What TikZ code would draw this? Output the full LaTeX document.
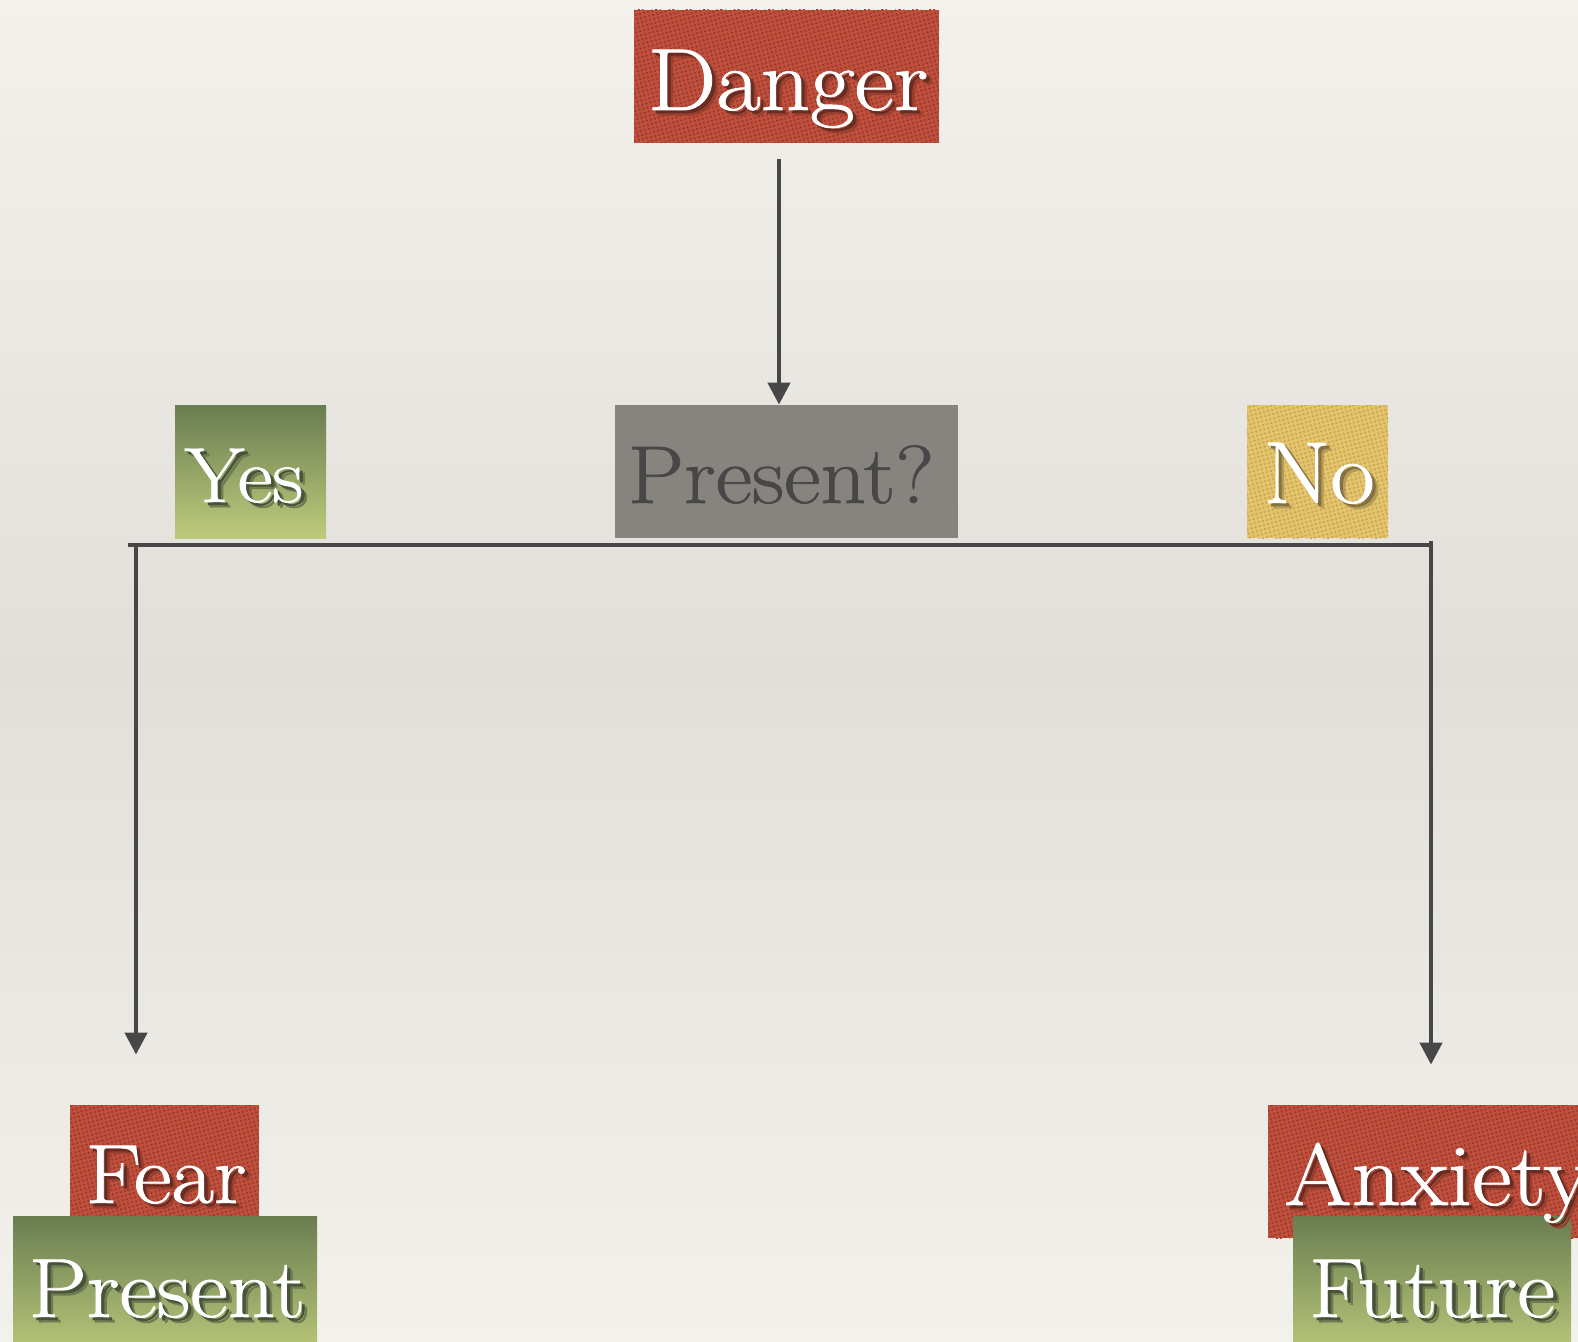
\documentclass[tikz,border=0pt]{standalone}
\usepackage{fontspec}
\setmainfont{Latin Modern Roman}[FakeBold=0.9]
\usetikzlibrary{arrows.meta,fit,patterns.meta}
\definecolor{bgtop}{HTML}{F3F1EC}
\definecolor{bgmid}{HTML}{E2DFDA}
\definecolor{redb}{HTML}{C0503E}
\definecolor{redd}{HTML}{9E3B2C}
\definecolor{yelb}{HTML}{E4C46C}
\definecolor{yeld}{HTML}{CBA955}
\definecolor{grntop}{HTML}{6A7D50}
\definecolor{grnbot}{HTML}{BECB7C}
\definecolor{grayb}{HTML}{878480}
\definecolor{graytxt}{HTML}{474747}
\definecolor{linec}{HTML}{474747}
\definecolor{redsh}{HTML}{6A2B22}
\definecolor{redsh2}{HTML}{98402F}
\definecolor{grnsh}{HTML}{48533A}
\definecolor{grnsh2}{HTML}{6E7C52}
\definecolor{yelsh}{HTML}{857142}
\definecolor{yelsh2}{HTML}{B59B58}
\newcommand\fs[1]{\fontsize{#1}{#1}\selectfont}
% #1 shadow colour, #2 soft shadow colour, #3 size, #4 text
\newcommand\shtxt[4]{\fs{#3}\scalebox{1.1}[1]{%
  \rlap{\hspace{2.6pt}\raisebox{-2.6pt}{\color{#2}#4}}%
  \rlap{\hspace{1.5pt}\raisebox{-1.5pt}{\color{#1}#4}}#4}}
\begin{document}
\begin{tikzpicture}[x=0.5pt,y=-0.5pt,
  redbox/.style={inner sep=0, fill=redb, postaction={pattern={Dots[radius=0.7pt,distance=2.1pt,angle=15]}, pattern color=redd}},
  yelbox/.style={inner sep=0, fill=yelb, postaction={pattern={Dots[radius=0.7pt,distance=2.1pt,angle=15]}, pattern color=yeld}},
  grnbox/.style={inner sep=0, top color=grntop, bottom color=grnbot},
  graybox/.style={inner sep=0, fill=grayb},
  lbl/.style={inner sep=0, text=white, anchor=base},
  plain/.style={draw=linec, line width=2.2pt},
  conn/.style={draw=linec, line width=2.2pt, -{Triangle[length=11pt,width=11pt]}}]
\clip (0,0) rectangle (1578,1342);
\shade[top color=bgtop, bottom color=bgtop, middle color=bgmid] (0,0) rectangle (1578,1342);

% boxes
\node[redbox, fit={(634,10) (939,143)}] (danger) {};
\node[graybox, fit={(615,405) (958,538)}] (presentq) {};
\node[grnbox, fit={(175,405) (326,538)}] (yes) {};
\node[yelbox, fit={(1247,405) (1388,538)}] (no) {};
\node[redbox, fit={(70,1105) (259,1240)}] (fear) {};
\node[grnbox, fit={(13,1216) (317,1360)}] (present) {};
\node[redbox, fit={(1268,1105) (1600,1238)}] (anxiety) {};
\node[grnbox, fit={(1293,1216) (1571,1360)}] (future) {};

% texts
\node[lbl] (dangerT) at (788,110) {\shtxt{redsh}{redsh2}{44pt}{Danger}};
\node[anchor=base, inner sep=0, text=graytxt] (presentqT) at (781,503) {\fs{41pt}\scalebox{1.09}[1]{Present?}};
\node[lbl] (yesT) at (244,502) {\shtxt{grnsh}{grnsh2}{39pt}{Yes}};
\node[lbl] (noT) at (1319,503) {\shtxt{yelsh}{yelsh2}{44pt}{No}};
\node[lbl] (fearT) at (166,1203) {\shtxt{redsh}{redsh2}{42pt}{Fear}};
\node[lbl] (presentT) at (167,1317) {\shtxt{grnsh}{grnsh2}{42pt}{Present}};
\node[lbl, anchor=base west] (anxietyT) at (1284,1205) {\shtxt{redsh}{redsh2}{44pt}{Anxiety}};
\node[lbl] (futureT) at (1432,1317) {\shtxt{grnsh}{grnsh2}{42pt}{Future}};

% connectors
\draw[conn] ([xshift=-3.75pt,yshift=-8pt]danger.south) -- ([xshift=-3.75pt]presentq.north);
\coordinate (hl) at (128,545);
\coordinate (hr) at (1433,545);
\draw[plain] (hl) -- (hr);
\coordinate (lt) at (136,545);
\coordinate (rt) at (1431,541);
\draw[conn, shorten >=25pt] (lt) -- (lt |- fear.north);
\draw[conn, shorten >=20pt] (rt) -- (rt |- anxiety.north);
\end{tikzpicture}
\end{document}
